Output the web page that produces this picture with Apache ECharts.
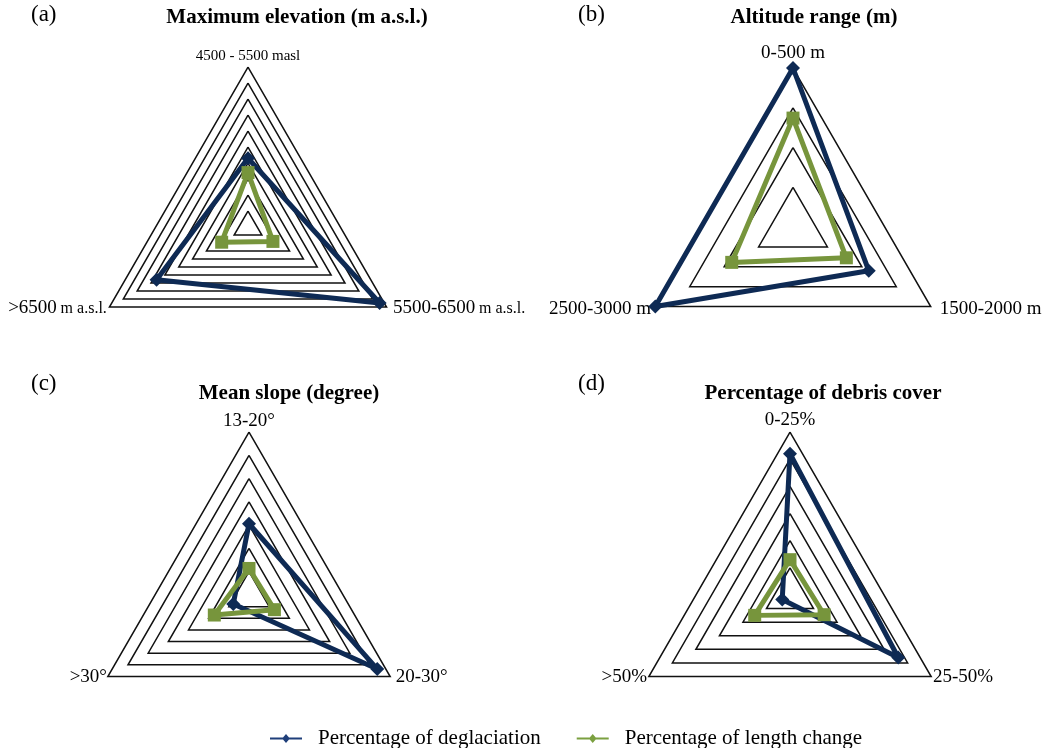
<!DOCTYPE html>
<html><head><meta charset="utf-8">
<script src="https://cdn.jsdelivr.net/npm/echarts@6/dist/echarts.min.js"></script>
<style>html,body{margin:0;padding:0;background:#fff}#c{width:1043px;height:748px}</style>
</head><body><div id="c"></div><script>
const seriesNames = ['Percentage of deglaciation', 'Percentage of length change'];
// indicator order: top, bottom-left, bottom-right
const catsA = ['4500 - 5500 masl', '>6500 m a.s.l.', '5500-6500 m a.s.l.'];
const deglA = [43, 66, 95];
const lenA = [34, 19, 18];
const maxA = 100;

const catsB = ['0-500 m', '2500-3000 m', '1500-2000 m'];
const deglB = [40, 40, 22];
const lenB = [27.4, 17.8, 15.5];
const maxB = 40;

const catsC = ['13-20°', '>30°', '20-30°'];
const deglC = [15.3, 3.9, 31.8];
const lenC = [5.7, 8.6, 6.3];
const maxC = 35;

const catsD = ['0-25%', '>50%', '25-50%'];
const deglD = [52, 3.3, 46];
const lenD = [13, 15, 14.5];
const maxD = 60;

const titles = ['Maximum elevation (m a.s.l.)', 'Altitude range (m)', 'Mean slope (degree)', 'Percentage of debris cover'];
const panelTags = ['(a)', '(b)', '(c)', '(d)'];

const FONT = 'Liberation Serif';
const BLUE = '#0e2a54';
const GREEN = '#77953c';

function radarCfg(center, radius, cats, max, split, fontSize, gap, formatter) {
  const cfg = {
    center: center, radius: radius, startAngle: 90, shape: 'polygon', splitNumber: split,
    indicator: cats.map(n => ({ name: n, min: 0, max: max })),
    nameGap: gap,
    axisName: { color: '#000', fontFamily: FONT, fontSize: fontSize,
      rich: { s: { fontFamily: FONT, fontSize: 16, color: '#000' },
              n: { fontFamily: FONT, fontSize: 19, color: '#000' } } },
    splitLine: { lineStyle: { color: '#111', width: 1.5 } },
    splitArea: { show: false },
    axisLine: { show: false },
    axisTick: { show: false },
    axisLabel: { show: false }
  };
  if (formatter) cfg.axisName.formatter = formatter;
  return cfg;
}
function radarSeries(idx, degl, len) {
  return {
    type: 'radar', radarIndex: idx, silent: true,
    data: [
      { name: seriesNames[0], value: degl, symbol: 'diamond', symbolSize: 14,
        lineStyle: { color: BLUE, width: 5 }, itemStyle: { color: BLUE } },
      { name: seriesNames[1], value: len, symbol: 'rect', symbolSize: 13,
        lineStyle: { color: GREEN, width: 5 }, itemStyle: { color: GREEN } }
    ]
  };
}
function fmtA(name) {
  const m = name.match(/^(.*?) (m a\.s\.l\.)$/);
  if (m) return (name === catsA[2] ? ' ' : '') + '{n|' + m[1] + '} {s|' + m[2] + '}';
  return name;
}
function padRight(cats) {
  return name => (name === cats[2] ? ' ' + name : name);
}

const chart = echarts.init(document.getElementById('c'), null, { renderer: 'canvas' });
const titleStyle = { fontFamily: FONT, fontSize: 21, fontWeight: 'bold', color: '#000' };
const tagStyle = { fontFamily: FONT, fontSize: 23, fontWeight: 'normal', color: '#000' };
const ICON = 'path://M0,9L13,9L16,5.5L19,9L32,9L32,11L19,11L16,14.5L13,11L0,11Z';
chart.setOption({
  animation: false,
  backgroundColor: '#fff',
  title: [
    { text: panelTags[0], left: 26, top: -2, textStyle: tagStyle },
    { text: titles[0], left: 292, top: 2, textAlign: 'center', textStyle: titleStyle },
    { text: panelTags[1], left: 573, top: -2, textStyle: tagStyle },
    { text: titles[1], left: 809, top: 2, textAlign: 'center', textStyle: titleStyle },
    { text: panelTags[2], left: 26, top: 367, textStyle: tagStyle },
    { text: titles[2], left: 284, top: 378, textAlign: 'center', textStyle: titleStyle },
    { text: panelTags[3], left: 573, top: 367, textStyle: tagStyle },
    { text: titles[3], left: 818, top: 378, textAlign: 'center', textStyle: titleStyle }
  ],
  legend: {
    bottom: -6, left: 265, itemGap: 36, itemWidth: 32, itemHeight: 9,
    textStyle: { fontFamily: FONT, fontSize: 21, color: '#000', padding: [0, 0, 0, 11] },
    data: [
      { name: seriesNames[0], icon: ICON, itemStyle: { color: '#1f3f7a' } },
      { name: seriesNames[1], icon: ICON, itemStyle: { color: '#7ba040' } }
    ]
  },
  radar: [
    radarCfg([248, 227], 160, catsA, maxA, 10, 15, 3, fmtA),
    radarCfg([793, 227], 159, catsB, maxB, 4, 19, 5, padRight(catsB)),
    radarCfg([249, 595], 163, catsC, maxC, 7, 19, 1, padRight(catsC)),
    radarCfg([790, 595], 163, catsD, maxD, 6, 19, 2)
  ],
  series: [
    radarSeries(0, deglA, lenA),
    radarSeries(1, deglB, lenB),
    radarSeries(2, deglC, lenC),
    radarSeries(3, deglD, lenD)
  ]
});
</script></body></html>
